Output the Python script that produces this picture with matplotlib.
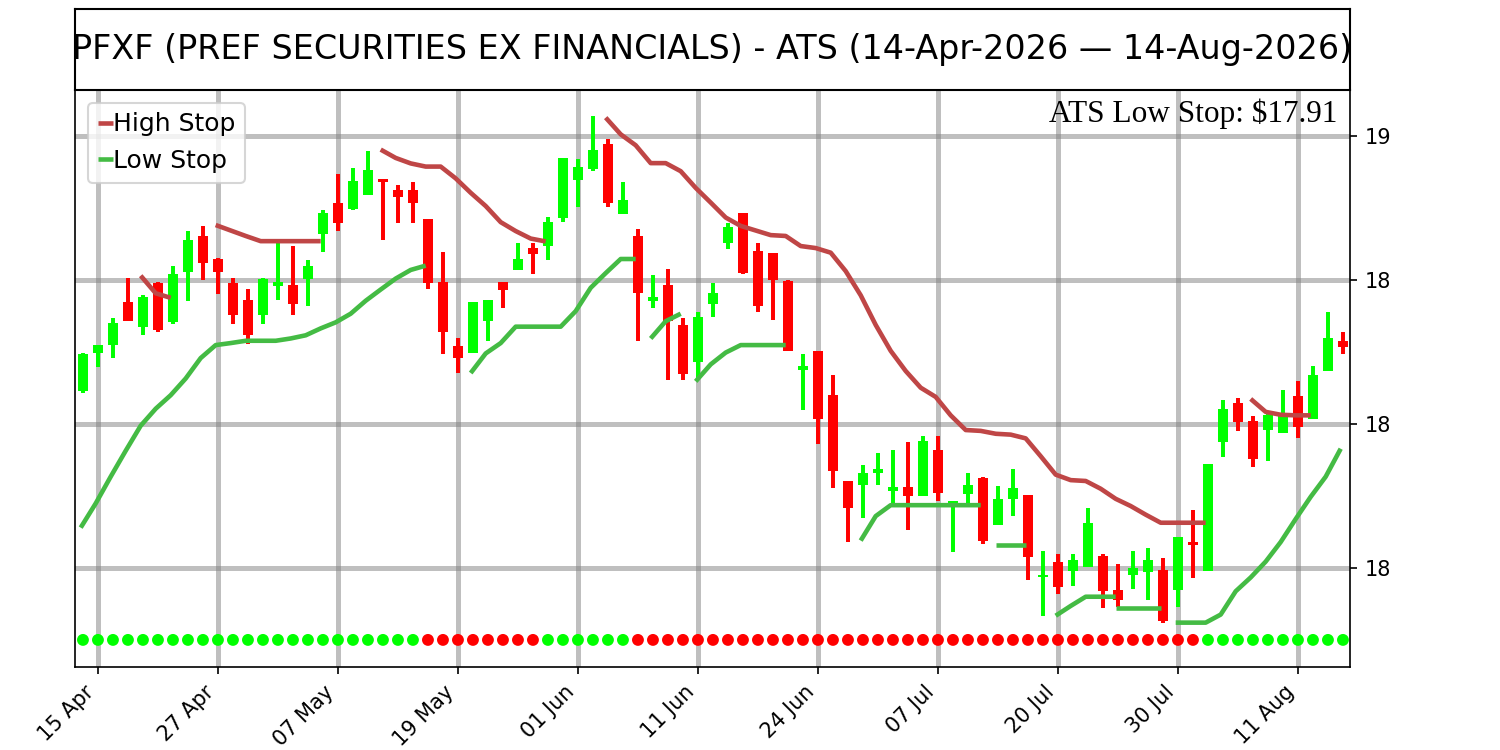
import numpy as np
import matplotlib
matplotlib.use('Agg')
import matplotlib.pyplot as plt
from matplotlib.ticker import FormatStrFormatter

# daily OHLC, 14-Apr-2026 .. 14-Aug-2026 (85 trading days)
opens = [18.113, 18.248, 18.276, 18.422, 18.338, 18.490, 18.353, 18.527, 18.652, 18.572,
         18.490, 18.431, 18.377, 18.479, 18.482, 18.505, 18.659, 18.769, 18.747, 18.797,
         18.850, 18.814, 18.814, 18.711, 18.492, 18.270, 18.248, 18.357, 18.492, 18.535,
         18.611, 18.617, 18.717, 18.846, 18.884, 18.972, 18.728, 18.653, 18.428, 18.482,
         18.344, 18.216, 18.418, 18.627, 18.733, 18.602, 18.594, 18.495, 18.188, 18.253,
         18.100, 17.802, 17.788, 17.830, 17.766, 17.782, 17.751, 17.911, 17.724, 17.756,
         17.814, 17.648, 17.740, 17.753, 17.467, 17.519, 17.490, 17.503, 17.541, 17.422,
         17.477, 17.487, 17.492, 17.425, 17.590, 17.490, 17.937, 18.072, 18.010, 17.978,
         17.968, 18.098, 18.017, 18.184, 18.289]
highs = [18.245, 18.276, 18.368, 18.508, 18.447, 18.492, 18.548, 18.670, 18.688, 18.575,
         18.508, 18.469, 18.508, 18.630, 18.618, 18.569, 18.743, 18.868, 18.888, 18.949,
         18.850, 18.829, 18.839, 18.711, 18.598, 18.299, 18.424, 18.431, 18.492, 18.630,
         18.630, 18.720, 18.923, 18.920, 19.071, 18.991, 18.839, 18.676, 18.518, 18.537,
         18.368, 18.389, 18.490, 18.698, 18.733, 18.630, 18.594, 18.500, 18.242, 18.253,
         18.171, 17.802, 17.856, 17.898, 17.911, 17.937, 17.959, 17.959, 17.734, 17.830,
         17.817, 17.783, 17.843, 17.753, 17.560, 17.550, 17.548, 17.708, 17.550, 17.515,
         17.560, 17.569, 17.535, 17.609, 17.702, 17.860, 18.084, 18.090, 18.027, 18.036,
         18.117, 18.148, 18.203, 18.389, 18.319]
lows = [18.109, 18.199, 18.230, 18.357, 18.310, 18.321, 18.348, 18.428, 18.501, 18.450,
        18.348, 18.278, 18.348, 18.431, 18.380, 18.411, 18.599, 18.672, 18.743, 18.797,
        18.640, 18.698, 18.698, 18.470, 18.242, 18.177, 18.248, 18.289, 18.402, 18.535,
        18.521, 18.569, 18.701, 18.752, 18.880, 18.752, 18.728, 18.289, 18.402, 18.152,
        18.152, 18.152, 18.370, 18.608, 18.521, 18.389, 18.360, 18.252, 18.049, 17.929,
        17.779, 17.589, 17.672, 17.789, 17.721, 17.631, 17.751, 17.734, 17.554, 17.724,
        17.582, 17.648, 17.679, 17.458, 17.332, 17.409, 17.438, 17.503, 17.361, 17.365,
        17.428, 17.390, 17.310, 17.365, 17.464, 17.490, 17.884, 17.974, 17.850, 17.871,
        17.968, 17.950, 18.017, 18.184, 18.242]
closes = [18.242, 18.274, 18.351, 18.357, 18.441, 18.325, 18.521, 18.640, 18.559, 18.527,
          18.379, 18.310, 18.505, 18.492, 18.418, 18.550, 18.733, 18.698, 18.843, 18.882,
          18.839, 18.788, 18.769, 18.490, 18.319, 18.229, 18.424, 18.431, 18.467, 18.572,
          18.589, 18.702, 18.923, 18.891, 18.952, 18.766, 18.779, 18.456, 18.441, 18.357,
          18.175, 18.370, 18.454, 18.683, 18.524, 18.409, 18.499, 18.254, 18.203, 18.017,
          17.837, 17.708, 17.830, 17.843, 17.782, 17.751, 17.940, 17.760, 17.734, 17.788,
          17.595, 17.740, 17.779, 17.537, 17.474, 17.434, 17.528, 17.657, 17.419, 17.390,
          17.500, 17.528, 17.314, 17.609, 17.580, 17.860, 18.053, 18.008, 17.879, 18.030,
          18.027, 17.991, 18.171, 18.300, 18.267]

# trailing stops, drawn as separate pieces: (first day index, values)
high_stop_segments = [
    (4, [18.515, 18.454, 18.438]),
    (9, [18.691, 18.672, 18.653, 18.635, 18.635, 18.635, 18.635, 18.635]),
    (20, [18.953, 18.924, 18.905, 18.894, 18.894, 18.853, 18.803, 18.757, 18.701, 18.670,
          18.644, 18.634]),
    (35, [19.064, 19.006, 18.968, 18.906, 18.906, 18.878, 18.820, 18.769, 18.717, 18.688,
          18.672, 18.656, 18.653, 18.618, 18.611, 18.595, 18.531, 18.447, 18.344, 18.254,
          18.184, 18.126, 18.094, 18.030, 17.979, 17.976, 17.966, 17.963, 17.950, 17.888,
          17.824, 17.805, 17.802, 17.775, 17.740, 17.715, 17.685, 17.657, 17.657, 17.657,
          17.657]),
    (78, [18.087, 18.042, 18.032, 18.030, 18.030]),
]
low_stop_segments = [
    (0, [17.640, 17.724, 17.817, 17.907, 17.994, 18.053, 18.100, 18.158, 18.229, 18.274,
         18.281, 18.289, 18.289, 18.289, 18.297, 18.308, 18.332, 18.353, 18.383, 18.428,
         18.467, 18.505, 18.535, 18.550]),
    (26, [18.177, 18.245, 18.281, 18.338, 18.338, 18.338, 18.338, 18.392, 18.473, 18.524,
          18.573, 18.573]),
    (38, [18.297, 18.357, 18.383]),
    (41, [18.148, 18.207, 18.248, 18.274, 18.274, 18.274, 18.274]),
    (52, [17.595, 17.680, 17.718, 17.718, 17.718, 17.718, 17.718, 17.718, 17.718]),
    (61, [17.580, 17.580, 17.580]),
    (65, [17.334, 17.368, 17.400, 17.400, 17.400]),
    (69, [17.361, 17.361, 17.361, 17.361]),
    (73, [17.310, 17.310, 17.310, 17.338, 17.419, 17.467, 17.522, 17.590, 17.670, 17.747,
          17.817, 17.914]),
]

# trend state per day as runs: (1 = up / green, 0 = down / red, number of days)
trend_runs = [(1, 23), (0, 8), (1, 6), (0, 38), (1, 10)]

tick_labels = ['15 Apr', '27 Apr', '07 May', '19 May', '01 Jun', '11 Jun',
               '24 Jun', '07 Jul', '20 Jul', '30 Jul', '11 Aug']

title = 'PFXF (PREF SECURITIES EX FINANCIALS) - ATS (14-Apr-2026 \u2014 14-Aug-2026)'
last_low_stop = 17.91

o = np.array(opens)
h = np.array(highs)
l = np.array(lows)
c = np.array(closes)
x = np.arange(len(o))
up = c >= o
cols = np.where(up, '#00FF00', '#FF0000')

fig = plt.figure(figsize=(10, 5), dpi=150)
ax = fig.add_axes([0.05, 0.1107, 0.85, 0.7693])
tax = fig.add_axes([0.05, 0.88, 0.85, 0.108])
tax.set_xticks([])
tax.set_yticks([])
for s in tax.spines.values():
    s.set_linewidth(1.0)
tax.text(0.5, 0.5, title, ha='center', va='center', fontsize=16, transform=tax.transAxes)

# candles
ax.vlines(x, l, h, colors=cols, linewidth=1.9, zorder=2)
ax.bar(x, np.abs(c - o), bottom=np.minimum(o, c), width=0.72, color=cols, zorder=2)

# stop lines
for k, (start, vals) in enumerate(high_stop_segments):
    xs = np.arange(start, start + len(vals)) - 0.15
    ax.plot(xs, vals, color='#BF4646', linewidth=2.2, solid_capstyle='butt', zorder=3,
            label='High Stop' if k == 0 else None)
for k, (start, vals) in enumerate(low_stop_segments):
    xs = np.arange(start, start + len(vals)) - 0.15
    ax.plot(xs, vals, color='#44BB44', linewidth=2.2, solid_capstyle='butt', zorder=3,
            label='Low Stop' if k == 0 else None)

# trend dots
trend = np.concatenate([[v] * n for v, n in trend_runs])
dot_cols = np.where(trend == 1, '#00FF00', '#FF0000')
ax.scatter(x, np.full(len(x), 17.25), c=dot_cols, s=22, zorder=3)

ax.set_xlim(-0.53, 84.47)
ax.set_ylim(17.156, 19.16)
ax.set_xticks(np.arange(1, len(x), 8))
ax.set_xticklabels(tick_labels, rotation=45, ha='right', fontsize=10)
ax.set_yticks([17.5, 18.0, 18.5, 19.0])
ax.yaxis.set_major_formatter(FormatStrFormatter('%.0f'))
ax.yaxis.tick_right()
ax.tick_params(axis='y', labelsize=10)
ax.grid(True, color='gray', alpha=0.5, linewidth=2.4, zorder=0)
ax.set_axisbelow(True)

ax.legend(loc='upper left', fontsize=12, handlelength=0.6, handletextpad=0.02)
ax.text(0.99, 0.985, f'ATS Low Stop: ${last_low_stop:.2f}', ha='right', va='top',
        fontsize=15, family='Liberation Serif', transform=ax.transAxes)

fig.savefig('out.png', dpi=150)
